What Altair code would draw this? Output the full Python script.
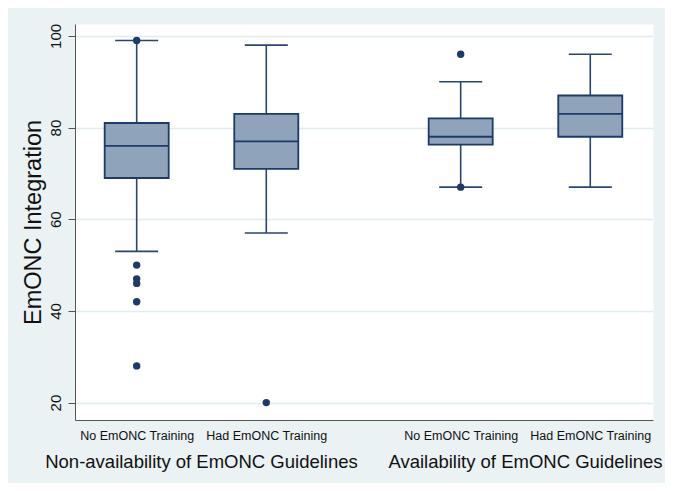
import altair as alt
import pandas as pd

# ---- data ----
groups = ["Non-availability of EmONC Guidelines", "Availability of EmONC Guidelines"]
training = ["No EmONC Training", "Had EmONC Training"]
lower_whisker = [53, 57, 67, 67]
q1 = [69, 71, 76.3, 78]
median = [76, 77, 78, 83]
q3 = [81, 83, 82, 87]
upper_whisker = [99, 98, 90, 96]
outliers = [[99, 50, 47, 46, 42, 28], [20], [96, 67], []]
y_ticks = [20, 40, 60, 80, 100]

# ---- layout constants (styles) ----
GROUP_STEP = len(training) + 0.5
BOX_HALF = 0.247
CAP_HALF = 0.166
FILL = "#8FA4BA"
NAVY = "#1E3A68"
LINE = "#2A4570"
FONT = "Liberation Sans"

rows, segs, caps, pts, xvals, xlabels = [], [], [], [], [], []
k = 0
for gi, g in enumerate(groups):
    for ti, t in enumerate(training):
        pos = gi * GROUP_STEP + ti + 1
        xvals.append(pos)
        xlabels.append(t)
        rows.append(dict(pos=pos, xl=pos - BOX_HALF, xr=pos + BOX_HALF,
                         q1=q1[k], med=median[k], q3=q3[k]))
        segs.append(dict(pos=pos, y=lower_whisker[k], y2=q1[k]))
        segs.append(dict(pos=pos, y=q3[k], y2=upper_whisker[k]))
        caps.append(dict(cl=pos - CAP_HALF, cr=pos + CAP_HALF, y=lower_whisker[k]))
        caps.append(dict(cl=pos - CAP_HALF, cr=pos + CAP_HALF, y=upper_whisker[k]))
        for o in outliers[k]:
            pts.append(dict(pos=pos, v=o))
        k += 1

box_df = pd.DataFrame(rows)
seg_df = pd.DataFrame(segs)
cap_df = pd.DataFrame(caps)
pt_df = pd.DataFrame(pts)
grp_df = pd.DataFrame({"pos": [gi * GROUP_STEP + (len(training) + 1) / 2 for gi in range(len(groups))],
                       "label": groups})

label_expr = " : ".join(
    [f"datum.value == {v} ? '{l}'" for v, l in zip(xvals, xlabels)]) + " : ''"

xscale = alt.Scale(domain=[0.524, 4.984], nice=False, zero=False)
yscale = alt.Scale(domain=[16.2, 102.6], nice=False, zero=False)

x_axis = alt.Axis(values=xvals, labelExpr=label_expr, title=None, ticks=False, grid=False,
                  domainColor="#555555", domainWidth=1, labelFont=FONT, labelFontSize=12.5,
                  labelColor="#111111", labelPadding=9, labelFlush=False)
y_axis = alt.Axis(values=y_ticks, grid=True, gridColor="#E0ECEF", gridWidth=1.5,
                  tickSize=7, tickColor="#555555", domainColor="#555555", domainWidth=1,
                  labelAngle=270, labelAlign="center", labelBaseline="alphabetic",
                  labelPadding=8, labelFont=FONT, labelFontSize=15, labelColor="#111111",
                  labelFlush=False,
                  title="EmONC Integration", titleFont=FONT, titleFontSize=23.5,
                  titleFontWeight="normal", titleColor="#111111", titleAngle=270,
                  titleX=-42, titleY=198, titleAlign="center", titleBaseline="middle")

whiskers = alt.Chart(seg_df).mark_rule(color=LINE, strokeWidth=1.6).encode(
    x=alt.X("pos:Q", scale=xscale, axis=x_axis),
    y=alt.Y("y:Q", scale=yscale, axis=y_axis),
    y2="y2:Q",
)
cap_layer = alt.Chart(cap_df).mark_rule(color=LINE, strokeWidth=1.6).encode(
    x="cl:Q", x2="cr:Q", y="y:Q",
)
boxes = alt.Chart(box_df).mark_rect(fill=FILL, stroke=NAVY, strokeWidth=1.8).encode(
    x="xl:Q", x2="xr:Q", y="q1:Q", y2="q3:Q",
)
medians = alt.Chart(box_df).mark_rule(color=NAVY, strokeWidth=1.8).encode(
    x="xl:Q", x2="xr:Q", y="med:Q",
)
points = alt.Chart(pt_df).mark_circle(color=NAVY, opacity=1, size=55).encode(
    x="pos:Q", y="v:Q",
)
group_text = alt.Chart(grp_df).mark_text(font=FONT, fontSize=18.5, color="#111111",
                                         align="center", baseline="alphabetic").encode(
    x="pos:Q", y=alt.value(444), text="label:N",
)

chart = alt.layer(whiskers, cap_layer, boxes, medians, points, group_text).properties(
    width=578, height=396,
    background="#EAF2F3",
    padding={"left": 67, "top": 16, "right": 12, "bottom": 63},
    autosize=alt.AutoSizeParams(type="none"),
).configure_view(fill="white", stroke="transparent")

chart.save("out.html", embed_options={"renderer": "svg", "actions": False})
